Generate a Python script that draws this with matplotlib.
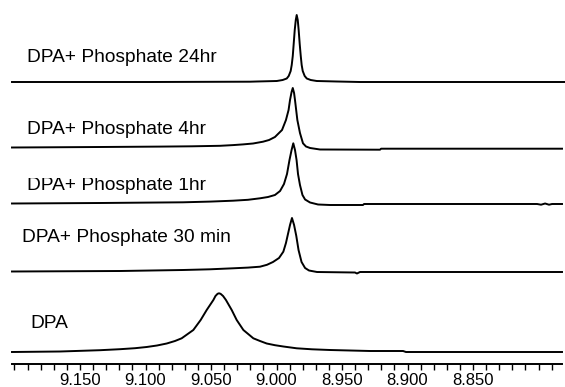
import matplotlib
matplotlib.use("Agg")
import matplotlib.pyplot as plt
from matplotlib.ticker import MultipleLocator, FormatStrFormatter
from matplotlib.transforms import Bbox, TransformedBbox

# ---- data: chemical shift (ppm) and intensity above each trace's own baseline ----
labels = ["DPA+ Phosphate 24hr", "DPA+ Phosphate 4hr", "DPA+ Phosphate 1hr",
          "DPA+ Phosphate 30 min", "DPA"]

ppm_24hr = [9.2019, 9.0966, 9.0202, 9.0151, 8.9998, 8.9953, 8.9922, 8.9907, 8.9892,
            8.9884, 8.9876, 8.9869, 8.9861, 8.9853, 8.9846, 8.9838, 8.9831, 8.9823,
            8.9815, 8.9808, 8.9800, 8.9785, 8.9769, 8.9739, 8.9693, 8.9540, 8.9363, 8.7798]
int_24hr = [0, 0, 0.3, 0.5, 1, 2, 3.5, 6, 11,
            17, 26, 38, 52, 62, 67, 62, 52, 38,
            26, 17, 11, 6, 3.5, 2, 1, 0.5, 0, 0]

ppm_4hr = [9.2019, 9.1347, 9.0889, 9.0645, 9.0431, 9.0332, 9.0256, 9.0179, 9.0103,
           9.0057, 9.0012, 8.9958, 8.9928, 8.9908, 8.9897, 8.9885, 8.9876, 8.9866,
           8.9859, 8.9850, 8.9841, 8.9821, 8.9798, 8.9775, 8.9744, 8.9668, 8.9210,
           8.9202, 8.7821]
int_4hr = [1.5, 2, 2.4, 2.7, 3.2, 3.9, 4.6, 5.5, 7.3,
           9, 12, 19, 29, 39, 49, 57, 61, 56,
           49, 39, 29, 16, 5.7, 2.5, 1, -0.5, -0.7,
           0.3, 0.3]

ppm_1hr = [9.2019, 9.1347, 9.0714, 9.0508, 9.0332, 9.0218, 9.0126, 9.0065, 9.0012,
           8.9973, 8.9943, 8.9920, 8.9901, 8.9885, 8.9872, 8.9859, 8.9847, 8.9836,
           8.9821, 8.9802, 8.9782, 8.9744, 8.9683, 8.9592, 8.9340, 8.9332, 8.8011,
           8.7981, 8.7950, 8.7920, 8.7897, 8.7821]
int_1hr = [1.5, 2, 2.7, 3.4, 4.3, 5.2, 6.7, 8, 10,
           14, 21, 31, 45, 55, 61.7, 55, 45, 31,
           20, 10, 5.5, 2.5, 0.5, 0, 0, 1, 1,
           0.3, 1.5, 0.3, 1, 1]

ppm_30min = [9.2019, 9.1195, 9.0714, 9.0508, 9.0332, 9.0218, 9.0126, 9.0073, 9.0027,
             8.9981, 8.9948, 8.9928, 8.9916, 8.9897, 8.9882, 8.9866, 8.9849, 8.9832,
             8.9809, 8.9782, 8.9752, 8.9691, 8.9401, 8.9386, 8.9363, 8.7821]
int_30min = [0.5, 1, 2, 2.7, 3.7, 4.4, 5.3, 7.2, 10,
             14, 20.3, 29, 36, 47, 54, 47, 36, 22,
             10, 4, 1.5, 0, -0.5, -1.5, 0, 0]

ppm_dpa = [9.2019, 9.1653, 9.1347, 9.1195, 9.1080, 9.0991, 9.0912, 9.0838, 9.0775,
           9.0724, 9.0635, 9.0579, 9.0533, 9.0482, 9.0466, 9.0450, 9.0439, 9.0427,
           9.0408, 9.0386, 9.0342, 9.0304, 9.0253, 9.0177, 9.0126, 9.0075, 9.0012,
           8.9948, 8.9846, 8.9729, 8.9592, 8.9439, 8.9286, 8.9034, 8.9012, 8.7821]
int_dpa = [0, 0.5, 1.8, 2.8, 3.8, 5, 6.5, 8.5, 11,
           13.7, 22, 32, 42, 52, 56, 58.2, 58.7, 58.2,
           56, 52, 42, 32, 22, 13.7, 11, 8.5, 6.8,
           5.5, 3.7, 2.7, 2, 1.5, 1, 1, 0, 0]

major_ticks = [9.150, 9.100, 9.050, 9.000, 8.950, 8.900, 8.850]

# ---- layout (pixels, figure is 565 x 387) ----
W, H = 565, 387
fig = plt.figure(figsize=(W / 100, H / 100), dpi=100)
ax = fig.add_axes([12 / W, 23 / H, 550 / W, 364 / H])
ax.set_xlim(9.2019, 8.7821)
ax.set_ylim(0, 364)

series = [(ppm_24hr, int_24hr), (ppm_4hr, int_4hr), (ppm_1hr, int_1hr),
          (ppm_30min, int_30min), (ppm_dpa, int_dpa)]
offsets = [282, 215, 159, 92, 12]
for (xs, ys), off in zip(series, offsets):
    ax.plot(xs, [v + off for v in ys], color="black", lw=1.4,
            solid_joinstyle="round", clip_on=False)

for s in ("left", "right", "top"):
    ax.spines[s].set_visible(False)
ax.spines["bottom"].set_linewidth(1.4)
ax.set_yticks([])
ax.xaxis.set_minor_locator(MultipleLocator(0.01))
ax.set_xticks(major_ticks)
ax.xaxis.set_major_formatter(FormatStrFormatter("%.3f"))
ax.tick_params(axis="x", which="both", direction="out", length=4.5, width=1.0,
               colors="black")
ax.tick_params(axis="x", which="major", pad=2, labelsize=12)
for lab in ax.get_xticklabels():
    lab.set_family(["Liberation Sans", "DejaVu Sans"])

# labels (left x, centre y in pixels)
label_pos = [(27, 57), (27, 130), (27, 185), (22, 238), (30, 324)]
for i, (txt, (px, py)) in enumerate(zip(labels, label_pos)):
    t = fig.text(px / W, 1 - py / H, txt, fontsize=13.8, va="center", ha="left",
                 family=["Liberation Sans", "DejaVu Sans"], color="black")
    if i == 2:
        clip = TransformedBbox(Bbox([[0, 0], [1, 1 - 178.5 / H]]), fig.transFigure)
        t.set_clip_box(clip)
        t.set_clip_on(True)

fig.savefig("out.png", dpi=100)
